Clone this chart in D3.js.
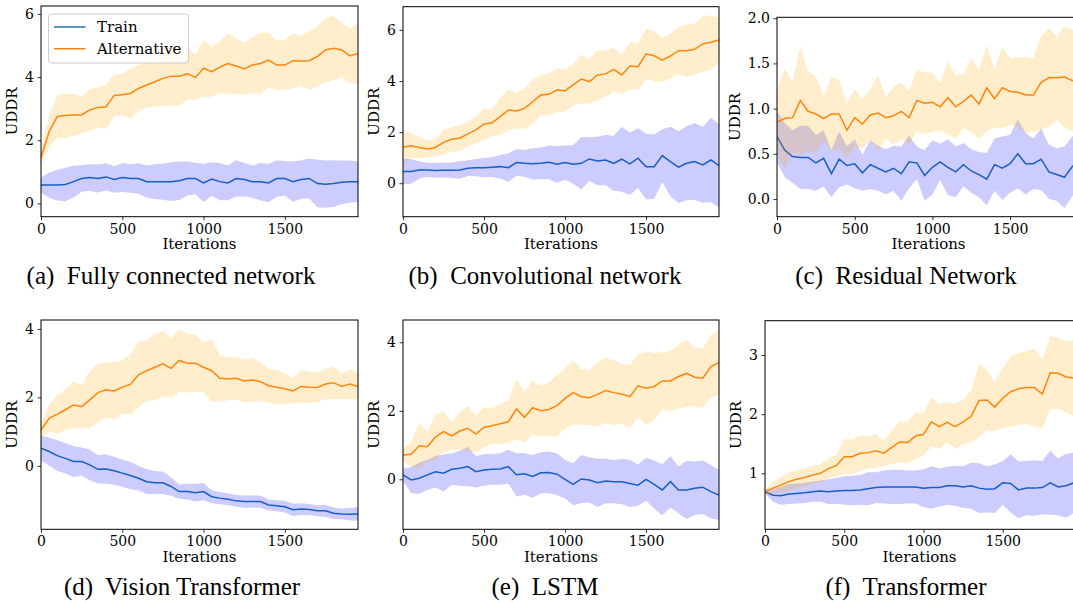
<!DOCTYPE html>
<html><head><meta charset="utf-8">
<script src="https://cdn.jsdelivr.net/npm/d3@7"></script>
<style>
body{margin:0;background:#fff;overflow:hidden}
svg{display:block}
</style>
</head><body>
<svg id="chart" width="1073" height="602"></svg>
<script>
// ---------- data ----------
const iterations = [0,50,100,150,200,250,300,350,400,450,500,550,600,650,700,750,800,850,900,950,
  1000,1050,1100,1150,1200,1250,1300,1350,1400,1450,1500,1550,1600,1650,1700,1750,1800,1850,1900,1950];
const seriesNames = ["Train", "Alternative"];
const xTickValues = [0, 500, 1000, 1500];
const captions = ["(a)  Fully connected network", "(b)  Convolutional network", "(c)  Residual Network",
  "(d)  Vision Transformer", "(e)  LSTM", "(f)  Transformer"];
const yTicksFC = [0, 2, 4, 6];
const yTicksCNN = [0, 2, 4, 6];
const yTicksRes = [0.0, 0.5, 1.0, 1.5, 2.0];
const yTicksViT = [0, 2, 4];
const yTicksLSTM = [0, 2, 4];
const yTicksTrf = [1, 2, 3];

// (a) Fully connected network
const fcTrainMean = [0.58,0.58,0.58,0.60,0.69,0.79,0.82,0.79,0.84,0.76,0.82,0.79,0.79,0.69,0.69,0.69,0.69,0.72,0.79,0.79,
  0.65,0.77,0.69,0.65,0.79,0.76,0.69,0.69,0.65,0.79,0.79,0.69,0.76,0.79,0.63,0.61,0.63,0.67,0.69,0.69];
const fcTrainStd = [0.24,0.40,0.49,0.53,0.50,0.42,0.42,0.44,0.43,0.42,0.46,0.45,0.48,0.51,0.55,0.57,0.61,0.61,0.54,0.50,
  0.61,0.53,0.59,0.55,0.58,0.53,0.51,0.59,0.61,0.58,0.55,0.64,0.61,0.63,0.75,0.75,0.74,0.69,0.67,0.64];
const fcAltMean = [1.45,2.27,2.75,2.78,2.80,2.80,2.96,3.04,3.06,3.42,3.44,3.48,3.64,3.75,3.85,3.96,4.03,4.03,4.10,3.99,
  4.28,4.17,4.31,4.43,4.35,4.26,4.38,4.43,4.54,4.38,4.38,4.52,4.51,4.52,4.65,4.86,4.91,4.86,4.67,4.75];
const fcAltStd = [0.25,0.48,0.68,0.70,0.66,0.58,0.66,0.64,0.70,0.67,0.65,0.80,0.74,0.70,0.78,0.88,0.93,0.94,0.82,0.71,
  0.90,0.79,0.82,0.96,0.88,0.83,0.87,0.98,0.87,0.78,0.78,0.88,0.79,0.92,0.95,1.00,1.02,0.85,0.87,0.95];

// (b) Convolutional network
const cnnTrainMean = [0.46,0.46,0.52,0.52,0.50,0.51,0.51,0.52,0.59,0.61,0.61,0.63,0.65,0.61,0.81,0.78,0.76,0.78,0.82,0.74,
  0.81,0.74,0.78,0.95,0.87,0.91,0.78,0.94,0.76,0.98,0.65,0.65,1.08,0.85,0.63,0.78,0.85,0.72,0.91,0.69];
const cnnTrainStd = [0.50,0.48,0.33,0.28,0.29,0.29,0.30,0.34,0.31,0.34,0.38,0.39,0.46,0.55,0.52,0.53,0.61,0.62,0.66,0.72,
  0.67,0.76,1.03,0.85,0.95,0.99,1.07,1.27,1.22,1.17,1.29,1.26,1.03,1.36,1.40,1.45,1.51,1.48,1.65,1.63];
const cnnAltMean = [1.41,1.47,1.40,1.34,1.40,1.60,1.72,1.76,1.93,2.09,2.32,2.37,2.61,2.87,2.83,2.93,3.19,3.45,3.48,3.65,
  3.62,3.85,4.08,3.98,4.24,4.28,4.46,4.24,4.59,4.56,5.06,4.99,4.82,4.98,5.19,5.19,5.24,5.45,5.52,5.61];
const cnnAltStd = [0.66,0.49,0.42,0.31,0.33,0.48,0.48,0.52,0.47,0.53,0.62,0.52,0.72,0.81,0.70,0.79,0.86,0.80,0.82,0.85,
  0.83,0.81,0.96,0.86,0.98,0.91,0.85,0.78,0.93,0.91,0.99,0.98,0.86,0.88,0.90,1.03,0.98,1.09,1.06,0.87];

// (c) Residual Network
const resTrainMean = [0.69,0.54,0.47,0.46,0.46,0.40,0.45,0.28,0.44,0.37,0.39,0.29,0.38,0.34,0.30,0.34,0.28,0.41,0.40,0.26,
  0.35,0.41,0.35,0.30,0.38,0.31,0.27,0.22,0.38,0.34,0.39,0.50,0.39,0.39,0.44,0.30,0.27,0.24,0.36,0.42];
const resTrainStd = [0.28,0.30,0.29,0.35,0.35,0.31,0.31,0.26,0.31,0.21,0.27,0.20,0.27,0.25,0.25,0.25,0.30,0.29,0.18,0.28,
  0.30,0.20,0.31,0.28,0.24,0.24,0.25,0.29,0.29,0.35,0.32,0.38,0.34,0.28,0.34,0.30,0.29,0.34,0.33,0.33];
const resAltMean = [0.85,0.89,0.90,1.09,0.97,0.94,0.89,0.94,0.94,0.76,0.90,0.83,0.93,0.95,0.90,0.92,0.97,0.90,1.09,1.06,
  1.07,1.02,1.12,1.02,1.08,1.15,1.05,1.23,1.11,1.23,1.19,1.18,1.15,1.15,1.29,1.34,1.34,1.35,1.31,1.30];
const resAltStd = [0.36,0.55,0.39,0.60,0.44,0.42,0.25,0.41,0.38,0.30,0.32,0.27,0.28,0.42,0.23,0.32,0.31,0.30,0.34,0.34,
  0.33,0.26,0.40,0.35,0.30,0.41,0.38,0.48,0.32,0.45,0.37,0.39,0.42,0.41,0.52,0.55,0.46,0.56,0.56,0.50];

// (d) Vision Transformer
const vitTrainMean = [0.52,0.42,0.30,0.22,0.13,0.13,0.03,-0.10,-0.09,-0.14,-0.21,-0.28,-0.36,-0.46,-0.49,-0.49,-0.60,-0.75,-0.75,-0.78,
  -0.75,-0.90,-0.94,-0.97,-1.02,-1.04,-1.04,-1.04,-1.14,-1.16,-1.19,-1.28,-1.26,-1.27,-1.31,-1.31,-1.38,-1.40,-1.41,-1.40];
const vitTrainStd = [0.36,0.41,0.45,0.44,0.45,0.41,0.45,0.41,0.43,0.41,0.40,0.40,0.36,0.36,0.34,0.33,0.27,0.21,0.23,0.26,
  0.25,0.19,0.18,0.17,0.17,0.18,0.18,0.18,0.16,0.16,0.17,0.18,0.17,0.16,0.16,0.18,0.17,0.16,0.18,0.20];
const vitAltMean = [1.05,1.39,1.51,1.64,1.78,1.73,1.93,2.14,2.22,2.19,2.30,2.38,2.66,2.78,2.88,2.98,2.85,3.08,3.00,3.00,
  2.88,2.78,2.56,2.54,2.56,2.48,2.51,2.46,2.34,2.30,2.25,2.19,2.32,2.30,2.29,2.39,2.43,2.32,2.39,2.32];
const vitAltStd = [0.22,0.39,0.56,0.59,0.68,0.63,0.83,0.85,0.80,0.84,0.78,0.88,0.96,0.88,0.96,0.96,0.86,0.92,0.86,0.84,
  0.72,0.91,0.67,0.63,0.62,0.62,0.65,0.56,0.49,0.50,0.46,0.36,0.47,0.46,0.43,0.44,0.48,0.37,0.44,0.38];

// (e) LSTM
const lstmTrainMean = [0.13,-0.02,0.03,0.13,0.22,0.18,0.29,0.32,0.37,0.22,0.27,0.29,0.30,0.37,0.13,0.16,0.08,0.19,0.20,0.15,
  0.00,-0.15,0.01,-0.02,-0.10,-0.05,-0.07,-0.07,-0.12,-0.17,0.00,-0.15,-0.31,-0.07,-0.31,-0.31,-0.26,-0.23,-0.36,-0.46];
const lstmTrainStd = [0.18,0.38,0.46,0.44,0.46,0.54,0.46,0.51,0.57,0.46,0.46,0.45,0.46,0.49,0.63,0.61,0.62,0.60,0.61,0.61,
  0.56,0.61,0.70,0.66,0.71,0.65,0.63,0.66,0.69,0.60,0.63,0.70,0.75,0.75,0.68,0.85,0.78,0.78,0.78,0.73];
const lstmAltMean = [0.71,0.73,0.98,0.95,1.23,1.39,1.27,1.41,1.49,1.32,1.52,1.56,1.62,1.68,2.05,1.81,2.09,2.00,2.04,2.15,
  2.36,2.53,2.41,2.38,2.48,2.59,2.53,2.49,2.41,2.73,2.66,2.71,2.87,2.87,3.00,3.09,2.98,2.95,3.29,3.41];
const lstmAltStd = [0.18,0.35,0.66,0.44,0.65,0.61,0.39,0.55,0.66,0.54,0.58,0.52,0.58,0.61,0.88,0.74,0.80,0.74,0.78,0.90,
  0.88,0.94,0.81,0.80,0.94,0.95,0.95,0.87,0.92,0.92,1.07,0.97,0.83,0.88,0.93,0.98,0.85,0.87,0.90,0.95];

// (f) Transformer
const trfTrainMean = [0.69,0.63,0.62,0.65,0.66,0.67,0.69,0.70,0.69,0.70,0.71,0.71,0.72,0.74,0.76,0.77,0.77,0.77,0.77,0.77,
  0.75,0.76,0.76,0.79,0.79,0.77,0.79,0.75,0.73,0.74,0.84,0.83,0.72,0.75,0.75,0.76,0.84,0.77,0.79,0.84];
const trfTrainStd = [0.03,0.11,0.15,0.17,0.17,0.17,0.17,0.18,0.21,0.22,0.24,0.25,0.25,0.28,0.26,0.28,0.29,0.29,0.28,0.28,
  0.32,0.36,0.32,0.32,0.34,0.35,0.39,0.42,0.39,0.41,0.37,0.49,0.48,0.46,0.47,0.45,0.54,0.48,0.54,0.51];
const trfAltMean = [0.69,0.75,0.80,0.86,0.90,0.93,0.97,1.00,1.08,1.13,1.28,1.28,1.34,1.35,1.38,1.34,1.44,1.53,1.52,1.63,
  1.66,1.87,1.79,1.86,1.79,1.87,1.96,2.23,2.24,2.12,2.27,2.38,2.43,2.45,2.45,2.34,2.70,2.69,2.63,2.61];
const trfAltStd = [0.04,0.10,0.13,0.16,0.15,0.15,0.16,0.15,0.17,0.18,0.30,0.29,0.30,0.27,0.29,0.22,0.28,0.35,0.35,0.39,
  0.36,0.42,0.38,0.34,0.38,0.38,0.44,0.63,0.51,0.41,0.51,0.59,0.61,0.61,0.66,0.58,0.62,0.60,0.60,0.65];

// ---------- layout ----------
const SERIF = "'DejaVu Serif', serif";
const CAPFONT = "'Liberation Serif', 'Times New Roman', serif";
const panels = [
  {tm: fcTrainMean, ts: fcTrainStd, am: fcAltMean, as: fcAltStd, yTicks: yTicksFC, fmt: "d",
   yDomain: [-0.42, 6.25], box: [41, 6, 358, 216.7], cap: captions[0], capX: 171, capY: 284, legend: true},
  {tm: cnnTrainMean, ts: cnnTrainStd, am: cnnAltMean, as: cnnAltStd, yTicks: yTicksCNN, fmt: "d",
   yDomain: [-1.31, 6.91], box: [403, 6.7, 719, 216.7], cap: captions[1], capX: 545, capY: 284},
  {tm: resTrainMean, ts: resTrainStd, am: resAltMean, as: resAltStd, yTicks: yTicksRes, fmt: ".1f",
   yDomain: [-0.196, 2.01], box: [777, 17.3, 1080, 216.7], cap: captions[2], capX: 906, capY: 284},
  {tm: vitTrainMean, ts: vitTrainStd, am: vitAltMean, as: vitAltStd, yTicks: yTicksViT, fmt: "d",
   yDomain: [-1.85, 4.26], box: [41, 320, 358, 529.3], cap: captions[3], capX: 182, capY: 595},
  {tm: lstmTrainMean, ts: lstmTrainStd, am: lstmAltMean, as: lstmAltStd, yTicks: yTicksLSTM, fmt: "d",
   yDomain: [-1.46, 4.65], box: [403, 320, 719, 529.3], cap: captions[4], capX: 545, capY: 595},
  {tm: trfTrainMean, ts: trfTrainStd, am: trfAltMean, as: trfAltStd, yTicks: yTicksTrf, fmt: "d",
   yDomain: [0.054, 3.58], box: [765, 320.7, 1074, 529.3], cap: captions[5], capX: 906, capY: 595}
];

const C_TRAIN = "#1f77b4", C_ALT = "#ff7f0e";
const svg = d3.select("#chart");

panels.forEach((p, k) => {
  const [x0, y0, x1, y1] = p.box;
  const x = d3.scaleLinear().domain([0, 1950]).range([x0, x1]);
  const y = d3.scaleLinear().domain(p.yDomain).range([y1, y0]);
  const g = svg.append("g");
  const clipId = "clip" + k;
  svg.append("clipPath").attr("id", clipId).append("rect")
    .attr("x", x0).attr("y", y0).attr("width", x1 - x0).attr("height", y1 - y0);
  const plot = g.append("g").attr("clip-path", `url(#${clipId})`);

  const area = (m, s) => d3.area()
    .x((d, i) => x(iterations[i]))
    .y0((d, i) => y(m[i] - s[i]))
    .y1((d, i) => y(m[i] + s[i]))(m);
  const line = (m) => d3.line().x((d, i) => x(iterations[i])).y(d => y(d))(m);

  plot.append("path").attr("d", line(p.tm)).attr("fill", "none").attr("stroke", C_TRAIN).attr("stroke-width", 1.5);
  plot.append("path").attr("d", area(p.tm, p.ts)).attr("fill", "blue").attr("fill-opacity", 0.2);
  plot.append("path").attr("d", line(p.am)).attr("fill", "none").attr("stroke", C_ALT).attr("stroke-width", 1.5);
  plot.append("path").attr("d", area(p.am, p.as)).attr("fill", "orange").attr("fill-opacity", 0.2);

  // spines
  g.append("rect").attr("x", x0).attr("y", y0).attr("width", x1 - x0).attr("height", y1 - y0)
    .attr("fill", "none").attr("stroke", "#000").attr("stroke-width", 1);

  const xa = g.append("g").attr("transform", `translate(0,${y1})`)
    .call(d3.axisBottom(x).tickValues(xTickValues).tickSize(3.5).tickPadding(3.5).tickFormat(d3.format("d")));
  const ya = g.append("g").attr("transform", `translate(${x0},0)`)
    .call(d3.axisLeft(y).tickValues(p.yTicks).tickSize(3.5).tickPadding(3.5).tickFormat(d3.format(p.fmt)));
  [xa, ya].forEach(a => {
    a.select(".domain").remove();
    a.attr("font-family", null).attr("font-size", null);
    a.selectAll("line").attr("stroke", "#000").attr("stroke-width", 0.8);
    a.selectAll("text").style("font-family", SERIF).style("font-size", "14px").attr("fill", "#000");
  });

  g.append("text").attr("x", (x0 + x1) / 2).attr("y", y1 + 32.5)
    .attr("text-anchor", "middle").style("font-family", SERIF).style("font-size", "15px").text("Iterations");
  const ylx = x0 - (p.fmt === ".1f" ? 37 : 24);
  g.append("text").attr("transform", `translate(${ylx},${(y0 + y1) / 2}) rotate(-90)`)
    .attr("text-anchor", "middle").style("font-family", SERIF).style("font-size", "15px").text("UDDR");

  svg.append("text").attr("x", p.capX).attr("y", p.capY).attr("text-anchor", "middle")
    .style("font-family", CAPFONT).style("font-size", "25px").style("white-space", "pre").text(p.cap);

  if (p.legend) {
    const lg = g.append("g");
    lg.append("rect").attr("x", 48.5).attr("y", 14).attr("width", 140).attr("height", 49).attr("rx", 3)
      .attr("fill", "#fff").attr("fill-opacity", 0.8).attr("stroke", "#cccccc").attr("stroke-width", 1);
    [C_TRAIN, C_ALT].forEach((c, j) => {
      const yy = 27 + j * 21.7;
      lg.append("line").attr("x1", 54).attr("x2", 85.5).attr("y1", yy).attr("y2", yy)
        .attr("stroke", c).attr("stroke-width", 1.5);
      lg.append("text").attr("x", 97).attr("y", yy + 5.3).style("font-family", SERIF).style("font-size", "15px")
        .text(seriesNames[j]);
    });
  }
});
</script>
</body></html>
